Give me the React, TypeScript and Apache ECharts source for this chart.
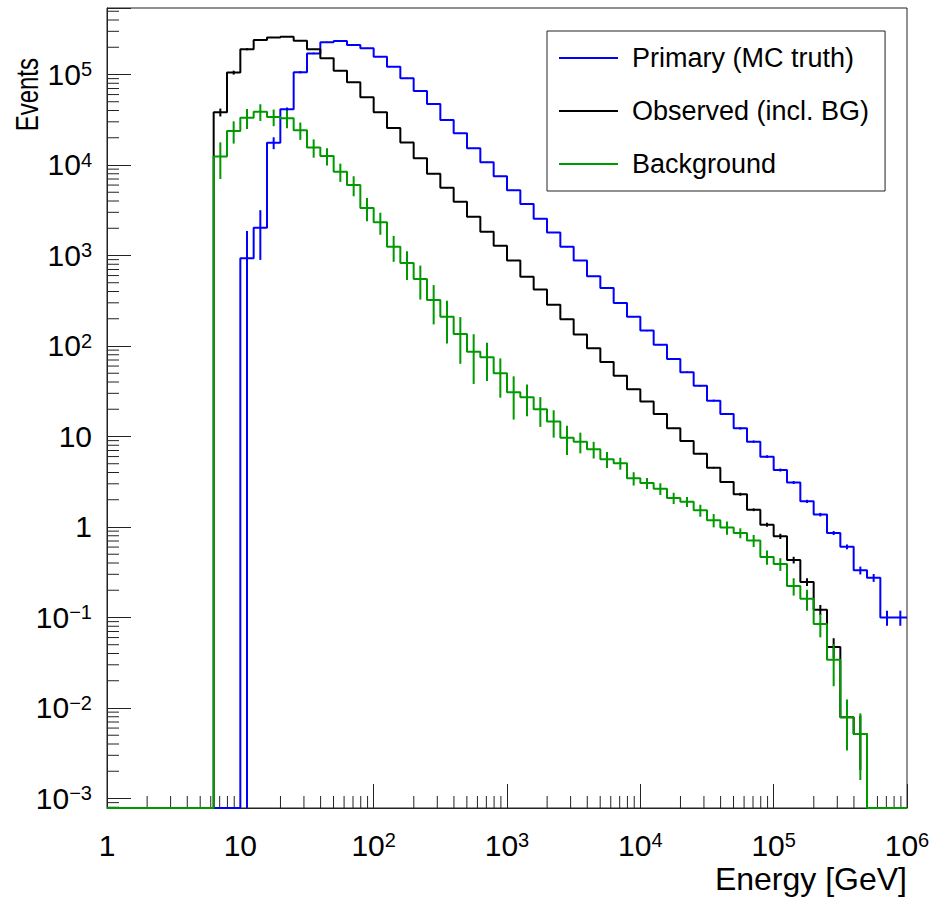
import { useEffect, useRef } from 'react';
import * as echarts from 'echarts';

const FONT = '"Liberation Sans", Arial, Helvetica, sans-serif';

// Binning: 60 logarithmic bins, 10 per decade, 1 GeV .. 1e6 GeV
const X_MIN = 1;
const X_MAX = 1e6;
const BINS_PER_DECADE = 10;
const N_BINS = 60;
const Y_MIN = 7.85e-4;
const Y_MAX = 5.43e5;

const SERIES_NAMES = ['Primary (MC truth)', 'Observed (incl. BG)', 'Background'];
const SERIES_COLORS = ['#0000ff', '#000000', '#009900'];

const primaryCounts = [
  0, 0, 0, 0, 0, 0, 0, 0, 0, 0,
  931, 2030, 17600, 41200, 106000, 171000, 227000, 234000, 212000, 195000,
  157000, 122000, 90800, 65700, 47200, 31400, 22400, 15300, 10700, 7500,
  5250, 3710, 2550, 1800, 1250, 881, 589, 437, 299, 211,
  148, 103, 71.8, 51.2, 36.3, 24.9, 17.7, 12.3, 8.77, 5.98,
  4.26, 3.1, 1.92, 1.37, 0.859, 0.605, 0.332, 0.275, 0.1, 0.1,
];
const primaryRelErr = [
  0, 0, 0, 0, 0, 0, 0, 0, 0, 0,
  1.0, 0.56, 0.15, 0.05, 0.03, 0.02, 0.015, 0.012, 0.012, 0.012,
  0.012, 0.012, 0.012, 0.012, 0.012, 0.012, 0.012, 0.012, 0.012, 0.012,
  0.012, 0.012, 0.012, 0.012, 0.012, 0.012, 0.012, 0.015, 0.015, 0.015,
  0.015, 0.015, 0.02, 0.02, 0.02, 0.025, 0.025, 0.03, 0.03, 0.035,
  0.038, 0.038, 0.04, 0.045, 0.05, 0.06, 0.1, 0.1, 0.19, 0.19,
];

const observedCounts = [
  0, 0, 0, 0, 0, 0, 0, 0, 38200, 105000,
  190000, 240000, 256000, 262000, 236000, 190000, 151000, 110000, 82000, 56000,
  38300, 25600, 17700, 11900, 7990, 5600, 3930, 2680, 1830, 1280,
  881, 583, 421, 286, 198, 134, 94.4, 66.6, 46.9, 33.3,
  24.3, 17.7, 12.3, 8.92, 6.46, 4.52, 3.14, 2.3, 1.55, 1.06,
  0.789, 0.432, 0.247, 0.122, 0.0472, 0.00789, 0.00516, 0, 0, 0,
];
const observedRelErr = [
  0, 0, 0, 0, 0, 0, 0, 0, 0.1, 0.05,
  0.025, 0.015, 0.01, 0.01, 0.01, 0.01, 0.01, 0.01, 0.01, 0.01,
  0.01, 0.01, 0.01, 0.01, 0.01, 0.01, 0.01, 0.01, 0.01, 0.01,
  0.01, 0.01, 0.01, 0.01, 0.01, 0.01, 0.01, 0.01, 0.01, 0.01,
  0.012, 0.012, 0.015, 0.015, 0.02, 0.02, 0.025, 0.038, 0.035, 0.051,
  0.067, 0.085, 0.098, 0.126, 0.25, 0.5, 0.6, 0, 0, 0,
];

const backgroundCounts = [
  0, 0, 0, 0, 0, 0, 0, 0, 12400, 23800,
  33300, 38800, 33900, 32800, 24200, 15600, 12600, 8430, 6010, 3350,
  2330, 1250, 826, 550, 322, 211, 136, 86.5, 75.0, 49.9,
  30.8, 27.1, 20.0, 14.6, 9.7, 8.77, 7.22, 5.6, 5.06, 3.45,
  3.06, 2.65, 2.09, 1.9, 1.53, 1.19, 0.987, 0.859, 0.709, 0.466,
  0.39, 0.223, 0.161, 0.0848, 0.0342, 0.00789, 0.00516, 0, 0, 0,
];
const backgroundRelErr = [
  0, 0, 0, 0, 0, 0, 0, 0, 0.435, 0.276,
  0.249, 0.209, 0.209, 0.221, 0.217, 0.228, 0.217, 0.228, 0.249, 0.288,
  0.273, 0.319, 0.353, 0.407, 0.462, 0.495, 0.533, 0.56, 0.452, 0.462,
  0.501, 0.383, 0.361, 0.334, 0.356, 0.257, 0.209, 0.201, 0.152, 0.168,
  0.139, 0.148, 0.143, 0.126, 0.152, 0.168, 0.168, 0.126, 0.152, 0.181,
  0.16, 0.217, 0.262, 0.289, 0.491, 0.571, 0.69, 0, 0, 0,
];

const MINOR_MULTIPLIERS = [2, 3, 4, 5, 6, 7, 8, 9];
const X_DECADES = [1, 10, 100, 1e3, 1e4, 1e5];
const Y_DECADES = [1e-4, 1e-3, 1e-2, 1e-1, 1, 10, 100, 1e3, 1e4, 1e5];

const X_TITLE = 'Energy [GeV]';
const Y_TITLE = 'Events';

const binEdge = (k: number) => Math.pow(10, k / BINS_PER_DECADE);
const binCenter = (k: number) => Math.pow(10, (k + 0.5) / BINS_PER_DECADE);

function stepData(counts: number[]) {
  const pts: number[][] = [];
  for (let k = 0; k < N_BINS; k++) {
    const v = counts[k] > 0 ? counts[k] : Y_MIN;
    pts.push([binEdge(k), v], [binEdge(k + 1), v]);
  }
  return pts;
}

function errData(counts: number[], rel: number[]) {
  const out: number[][] = [];
  for (let k = 0; k < N_BINS; k++) {
    const c = counts[k];
    if (c > 0) {
      out.push([binCenter(k), Math.max(c * (1 - rel[k]), Y_MIN), c * (1 + rel[k])]);
    }
  }
  return out;
}

function expLabel(v: number) {
  const lg = Math.log10(v);
  const e = Math.round(lg);
  if (Math.abs(lg - e) > 1e-6) return '';
  if (e === 0) return '{b|1}';
  if (e === 1) return '{b|10}';
  return '{b|10}{s|' + (e < 0 ? '\u2212' + -e : String(e)) + '}';
}

const labelRich = {
  b: { fontSize: 30, lineHeight: 30, verticalAlign: 'bottom', fontFamily: FONT, color: '#000' },
  s: { fontSize: 20, lineHeight: 12, verticalAlign: 'top', fontFamily: FONT, color: '#000' },
};

export default function App() {
  const ref = useRef<HTMLDivElement>(null);

  useEffect(() => {
    if (!ref.current) return;
    const chart = echarts.init(ref.current, null, { renderer: 'svg' });

    const histCounts = [primaryCounts, observedCounts, backgroundCounts];
    const histErrs = [primaryRelErr, observedRelErr, backgroundRelErr];

    const series: any[] = [];
    histCounts.forEach((counts, i) => {
      const color = SERIES_COLORS[i];
      series.push({
        name: SERIES_NAMES[i],
        type: 'line',
        data: stepData(counts),
        symbol: 'none',
        showSymbol: false,
        lineStyle: { color, width: 2 },
        itemStyle: { color },
        silent: true,
        z: 3 + i,
      });
      series.push({
        name: SERIES_NAMES[i] + ' error',
        type: 'custom',
        data: errData(counts, histErrs[i]),
        encode: { x: 0, y: [1, 2] },
        silent: true,
        z: 3 + i,
        renderItem: (_p: any, api: any) => {
          const x = api.value(0);
          const a = api.coord([x, api.value(1)]);
          const b = api.coord([x, api.value(2)]);
          return {
            type: 'line',
            shape: { x1: a[0], y1: a[1], x2: b[0], y2: b[1] },
            style: { stroke: color, lineWidth: 2 },
          };
        },
      });
    });

    const xMinor: number[][] = [];
    X_DECADES.forEach((d) => MINOR_MULTIPLIERS.forEach((m) => xMinor.push([m * d, Y_MIN])));
    const yMinor: number[][] = [];
    Y_DECADES.forEach((d) =>
      MINOR_MULTIPLIERS.forEach((m) => {
        const v = m * d;
        if (v > Y_MIN && v < Y_MAX) yMinor.push([X_MIN, v]);
      })
    );

    series.push({
      name: 'x minor ticks',
      type: 'custom',
      data: xMinor,
      silent: true,
      z: 2,
      renderItem: (_p: any, api: any) => {
        const p = api.coord([api.value(0), api.value(1)]);
        return {
          type: 'line',
          shape: { x1: p[0], y1: p[1], x2: p[0], y2: p[1] - 12 },
          style: { stroke: '#222', lineWidth: 1 },
        };
      },
    });
    series.push({
      name: 'y minor ticks',
      type: 'custom',
      data: yMinor,
      silent: true,
      z: 2,
      renderItem: (_p: any, api: any) => {
        const p = api.coord([api.value(0), api.value(1)]);
        return {
          type: 'line',
          shape: { x1: p[0], y1: p[1], x2: p[0] + 12, y2: p[1] },
          style: { stroke: '#222', lineWidth: 1 },
        };
      },
    });

    chart.setOption({
      animation: false,
      backgroundColor: '#fff',
      grid: {
        left: 107,
        top: 8,
        width: 800,
        height: 800,
        show: true,
        borderColor: '#222',
        borderWidth: 1,
        backgroundColor: 'transparent',
        containLabel: false,
        outerBoundsMode: 'none',
      },
      xAxis: {
        type: 'log',
        logBase: 10,
        min: X_MIN,
        max: X_MAX,
        axisLine: { show: true, lineStyle: { color: '#222', width: 1 } },
        axisTick: { show: true, inside: true, length: 24, lineStyle: { color: '#222', width: 1 } },
        splitLine: { show: false },
        minorTick: { show: false },
        axisLabel: {
          show: true,
          margin: 22,
          interval: 0,
          showMinLabel: true,
          showMaxLabel: true,
          formatter: expLabel,
          rich: labelRich,
        },
      },
      yAxis: {
        type: 'log',
        logBase: 10,
        min: Y_MIN,
        max: Y_MAX,
        axisLine: { show: true, lineStyle: { color: '#222', width: 1 } },
        axisTick: { show: true, inside: true, length: 24, lineStyle: { color: '#222', width: 1 } },
        splitLine: { show: false },
        minorTick: { show: false },
        axisLabel: {
          show: true,
          margin: 15,
          interval: 0,
          formatter: expLabel,
          rich: labelRich,
        },
      },
      legend: {
        orient: 'vertical',
        left: 547,
        top: 31,
        padding: [12, 16, 12, 12],
        itemWidth: 59,
        itemHeight: 2,
        itemGap: 23,
        icon: 'rect',
        data: SERIES_NAMES,
        backgroundColor: '#fff',
        borderColor: '#222',
        borderWidth: 1,
        borderRadius: 0,
        selectedMode: false,
        textStyle: { fontSize: 27, fontFamily: FONT, color: '#000', lineHeight: 30, padding: [0, 0, 0, 9] },
      },
      graphic: [
        {
          type: 'text',
          x: 907,
          y: 879,
          style: {
            text: X_TITLE,
            fontSize: 32,
            fontFamily: FONT,
            fill: '#000',
            align: 'right',
            verticalAlign: 'middle',
            textAlign: 'right',
            textVerticalAlign: 'middle',
          },
        },
        {
          type: 'text',
          x: 27,
          y: 58,
          rotation: Math.PI / 2,
          scaleX: 0.75,
          style: {
            text: Y_TITLE,
            fontSize: 32,
            fontFamily: FONT,
            fill: '#000',
            align: 'right',
            verticalAlign: 'middle',
            textAlign: 'right',
            textVerticalAlign: 'middle',
          },
        },
      ],
      series,
    });

    return () => chart.dispose();
  }, []);

  return (
    <div
      ref={ref}
      style={{ position: 'fixed', left: 0, top: 0, width: 933, height: 898, background: '#fff' }}
    />
  );
}
